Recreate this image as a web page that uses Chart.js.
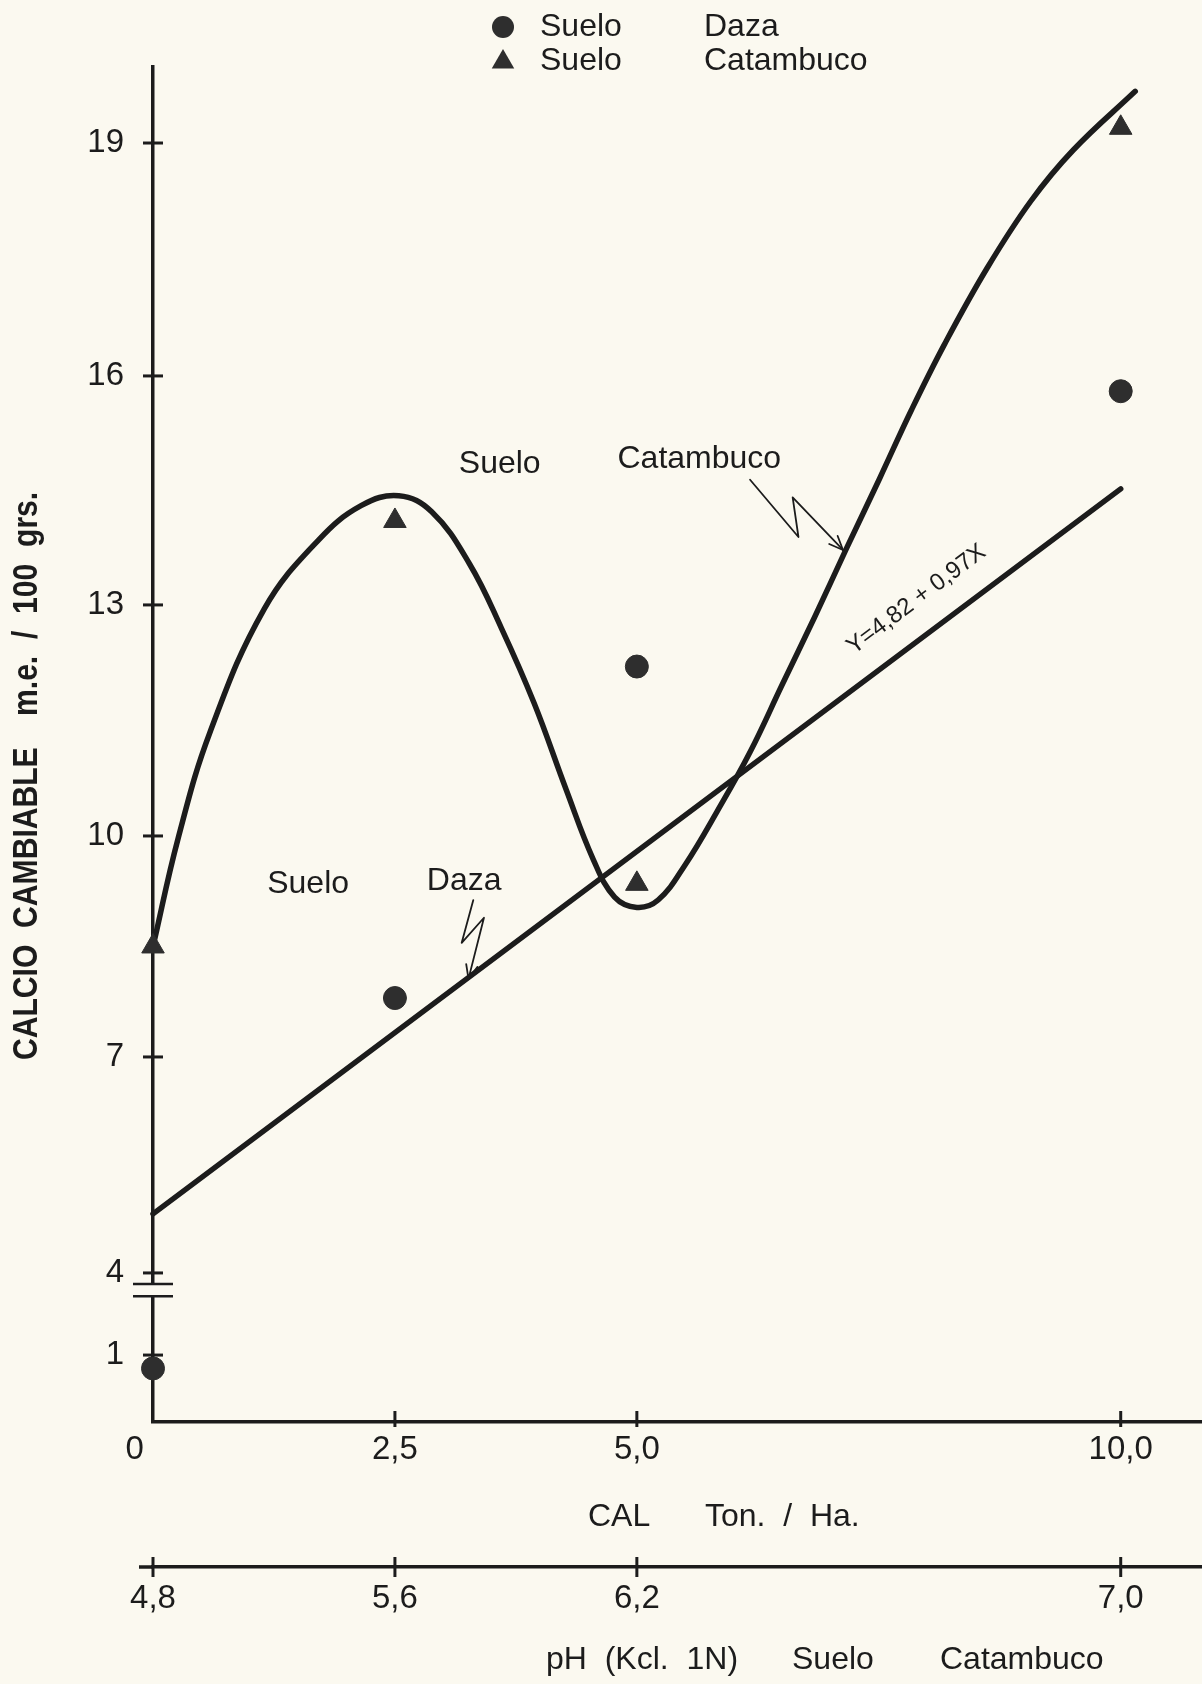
<!DOCTYPE html>
<html lang="es">
<head>
<meta charset="utf-8">
<title>Calcio cambiable - Suelo Daza / Suelo Catambuco</title>
<script src="https://cdn.jsdelivr.net/npm/chart.js@4.4.1/dist/chart.umd.min.js"></script>
<style>
  html, body { margin: 0; padding: 0; background: #fbf9f0; overflow: hidden; }
  #wrap { width: 1202px; height: 1684px; position: relative; }
</style>
</head>
<body>
<div id="wrap"><canvas id="chart"></canvas></div>
<script>
// ── Data ─────────────────────────────────────────────────────
const calTicks  = [0, 2.5, 5, 10];                 // CAL Ton./Ha.
const calLabels = ['0    ', '2,5', '5,0', '10,0'];  // origin label sits left of the corner
const phLabels  = ['4,8', '5,6', '6,2', '7,0'];    // pH (Kcl 1N) at the same doses
const caTicks   = [1, 4, 7, 10, 13, 16, 19];

// Suelo Daza (circles) + fitted line Y = 4,82 + 0,97X
const dazaX    = [0, 2.5, 5, 10];
const dazaY    = [0.8, 7.8, 12.2, 15.8];
const dazaFitX = [0, 10];
const dazaFitY = [4.82, 14.52];

// Suelo Catambuco (triangles) + hand-drawn curve
const catX = [0, 2.5, 5, 10];
const catY = [8.5, 14.1, 9.35, 19.2];
const catCurveX = [0, 0.26, 0.59, 1.15, 1.71, 2.15, 2.54, 2.88, 3.27, 3.6, 3.94, 4.27, 4.55, 4.77, 5.0,
                   5.22, 5.5, 5.83, 6.17, 6.5, 6.84, 7.17, 7.51, 7.84, 8.18, 8.62, 9.07, 9.51, 10.15];
const catCurveY = [8.5, 9.97, 11.35, 12.95, 13.85, 14.3, 14.43, 14.22, 13.54, 12.7, 11.72, 10.6, 9.68, 9.17, 9.03,
                   9.13, 9.61, 10.32, 11.09, 11.96, 12.85, 13.75, 14.66, 15.56, 16.41, 17.39, 18.25, 18.91, 19.68];

// ── Look ─────────────────────────────────────────────────────
const PAPER = '#fbf9f0';
const INK   = '#1c1c1c';
const MARK  = '#2e2e2e';
const FONT  = "'Liberation Sans', Arial, sans-serif";

Chart.defaults.font.family = FONT;
Chart.defaults.color = INK;

// ── Hand-ruled value axis: 1..4 squeezed, ticks as drawn ─────
const Y_SEGMENTS = [[0, 0], [1, 0.0494], [4, 0.110], [7, 0.2694], [10, 0.4325],
                    [13, 0.603], [16, 0.772], [19, 0.9439], [20, 1]];
const Y_BREAK = [3.15, 3.6];

function toDecimal(v) {
  for (let i = 1; i < Y_SEGMENTS.length; i++) {
    const [v0, d0] = Y_SEGMENTS[i - 1], [v1, d1] = Y_SEGMENTS[i];
    if (v <= v1 || i === Y_SEGMENTS.length - 1) return d0 + (v - v0) / (v1 - v0) * (d1 - d0);
  }
}
function fromDecimal(d) {
  for (let i = 1; i < Y_SEGMENTS.length; i++) {
    const [v0, d0] = Y_SEGMENTS[i - 1], [v1, d1] = Y_SEGMENTS[i];
    if (d <= d1 || i === Y_SEGMENTS.length - 1) return v0 + (d - d0) / (d1 - d0) * (v1 - v0);
  }
}

class BrokenScale extends Chart.LinearScale {
  static id = 'broken';
  static defaults = {};
  getPixelForValue(v) {
    if (v === null || v === undefined || isNaN(v)) return NaN;
    return this.getPixelForDecimal(toDecimal(v));
  }
  getValueForPixel(p) {
    return fromDecimal(this.getDecimalForPixel(p));
  }
}
Chart.register(BrokenScale);

// ── Annotations (data units) ─────────────────────────────────
const notes = [
  { text: 'Suelo',     x: 3.16, y: 14.85 },
  { text: 'Catambuco', x: 4.80, y: 14.91 },
  { text: 'Suelo',     x: 1.18, y: 9.35 },
  { text: 'Daza',      x: 2.83, y: 9.39 },
];
const catArrow  = [[6.17, 14.64], [6.67, 13.89], [6.61, 14.41], [7.13, 13.72]];
const dazaArrow = [[3.31, 9.13], [3.19, 8.55], [3.42, 8.89], [3.26, 8.06]];

const pts = (xs, ys) => xs.map((x, i) => ({ x, y: ys[i] }));

function seg(ctx, x1, y1, x2, y2) {
  ctx.beginPath();
  ctx.moveTo(x1, y1);
  ctx.lineTo(x2, y2);
  ctx.stroke();
}

function squiggle(ctx, x, y, list) {
  const p = list.map(([a, b]) => [x.getPixelForValue(a), y.getPixelForValue(b)]);
  ctx.beginPath();
  p.forEach(([px, py], i) => i ? ctx.lineTo(px, py) : ctx.moveTo(px, py));
  ctx.stroke();
  const [x1, y1] = p[p.length - 2], [x2, y2] = p[p.length - 1];
  const a = Math.atan2(y2 - y1, x2 - x1);
  [-0.4, 0.4].forEach(s => seg(ctx, x2, y2, x2 - 15 * Math.cos(a + s), y2 - 15 * Math.sin(a + s)));
}

// rotated, slightly condensed axis name
function sideTitle(ctx, text, cx, from) {
  ctx.save();
  ctx.translate(cx, from);
  ctx.rotate(-Math.PI / 2);
  ctx.scale(0.86, 1);
  ctx.font = `bold 35px ${FONT}`;
  ctx.textAlign = 'left';
  ctx.textBaseline = 'middle';
  ctx.fillText(text, 0, 0);
  ctx.restore();
}

const sketchPlugin = {
  id: 'sketch',
  beforeDraw(chart) {
    const { ctx, width, height } = chart;
    ctx.save();
    ctx.fillStyle = PAPER;
    ctx.fillRect(0, 0, width, height);
    ctx.restore();
  },
  afterDraw(chart) {
    const { ctx, chartArea } = chart;
    const { x, ph, y } = chart.scales;
    const ax = chartArea.left;
    ctx.save();
    ctx.strokeStyle = INK;
    ctx.fillStyle = INK;

    // tick marks crossing the axes
    ctx.lineWidth = 3;
    caTicks.forEach(v => { const py = y.getPixelForValue(v); seg(ctx, ax - 10, py, ax + 10, py); });
    calTicks.forEach(v => {
      if (v > 0) { const px = x.getPixelForValue(v); seg(ctx, px, x.top - 11, px, x.top + 5); }
    });
    calTicks.forEach(v => { const px = ph.getPixelForValue(v); seg(ctx, px, ph.top - 10, px, ph.top + 10); });
    ctx.lineWidth = 3.5;
    seg(ctx, ax - 14, ph.top, ax, ph.top);

    // break on the value axis
    const b1 = y.getPixelForValue(Y_BREAK[0]), b2 = y.getPixelForValue(Y_BREAK[1]);
    ctx.fillStyle = PAPER;
    ctx.fillRect(ax - 4, b2, 8, b1 - b2);
    ctx.fillStyle = INK;
    ctx.lineWidth = 2.5;
    seg(ctx, ax - 20, b1, ax + 20, b1);
    seg(ctx, ax - 20, b2, ax + 20, b2);

    // value axis name
    sideTitle(ctx, 'CALCIO  CAMBIABLE', 27, 1060);
    sideTitle(ctx, 'm.e.  /  100  grs.', 27, 716);

    // legend
    ctx.font = `32px ${FONT}`;
    ctx.textBaseline = 'middle';
    ctx.textAlign = 'left';
    ctx.fillStyle = MARK;
    Chart.helpers.drawPoint(ctx, { pointStyle: 'circle', radius: 11, borderWidth: 0 }, 503, 27);
    Chart.helpers.drawPoint(ctx, { pointStyle: 'triangle', radius: 13, borderWidth: 0 }, 503, 62);
    ctx.fillStyle = INK;
    ctx.fillText('Suelo', 540, 27);
    ctx.fillText('Daza', 704, 27);
    ctx.fillText('Suelo', 540, 61);
    ctx.fillText('Catambuco', 704, 61);

    // curve names
    notes.forEach(n => ctx.fillText(n.text, x.getPixelForValue(n.x), y.getPixelForValue(n.y)));

    // pointer squiggles
    ctx.lineWidth = 1.8;
    ctx.lineJoin = 'round';
    ctx.lineCap = 'round';
    squiggle(ctx, x, y, catArrow);
    squiggle(ctx, x, y, dazaArrow);

    // equation written along the fitted line
    const x0 = x.getPixelForValue(dazaFitX[0]), y0 = y.getPixelForValue(dazaFitY[0]);
    const x1 = x.getPixelForValue(dazaFitX[1]), y1 = y.getPixelForValue(dazaFitY[1]);
    const ang = Math.atan2(y1 - y0, x1 - x0);
    const t = 0.81;
    ctx.save();
    ctx.translate(x0 + (x1 - x0) * t, y0 + (y1 - y0) * t);
    ctx.rotate(ang);
    ctx.font = `24px ${FONT}`;
    ctx.textAlign = 'center';
    ctx.fillText('Y=4,82 + 0,97X', 0, -34);
    ctx.restore();

    // axis names under the two scales
    ctx.font = `32px ${FONT}`;
    ctx.textAlign = 'left';
    ctx.fillText('CAL', 588, x.top + 95);
    ctx.fillText('Ton.  /  Ha.', 705, x.top + 95);
    ctx.fillText('pH  (Kcl.  1N)', 546, ph.top + 93);
    ctx.fillText('Suelo', 792, ph.top + 93);
    ctx.fillText('Catambuco', 940, ph.top + 93);
    ctx.restore();
  }
};

const tickFont = { size: 33 };
const flatX = (h) => (s) => { s.height = h; s.paddingLeft = 0; s.paddingRight = 0; };

new Chart(document.getElementById('chart'), {
  type: 'line',
  data: {
    datasets: [
      {
        label: 'Suelo Catambuco', data: pts(catX, catY), showLine: false,
        pointStyle: 'triangle', pointRadius: 13, pointBackgroundColor: MARK,
        pointBorderColor: MARK, pointBorderWidth: 1, clip: false,
      },
      {
        label: 'Suelo Daza', data: pts(dazaX, dazaY), showLine: false,
        pointStyle: 'circle', pointRadius: 11.5, pointBackgroundColor: MARK,
        pointBorderColor: MARK, pointBorderWidth: 1, clip: false,
      },
      {
        label: 'Catambuco', data: pts(catCurveX, catCurveY), borderColor: INK, borderWidth: 5.5,
        pointRadius: 0, tension: 0.4, borderCapStyle: 'round',
        borderJoinStyle: 'round', fill: false, clip: false,
      },
      {
        label: 'Y=4,82 + 0,97X', data: pts(dazaFitX, dazaFitY), borderColor: INK, borderWidth: 5.5,
        pointRadius: 0, tension: 0, borderCapStyle: 'round', fill: false, clip: false,
      },
    ],
  },
  options: {
    responsive: true,
    maintainAspectRatio: false,
    animation: false,
    events: [],
    layout: { autoPadding: false, padding: { top: 67, left: 0, right: 0, bottom: 0 } },
    plugins: { legend: { display: false }, tooltip: { enabled: false } },
    scales: {
      x: {
        type: 'linear', position: 'bottom', weight: 0, min: 0, max: 10.84,
        afterFit: flatX(145),
        afterBuildTicks: s => { s.ticks = calTicks.map(value => ({ value })); },
        grid: { display: false, drawTicks: false },
        border: { color: INK, width: 3.5 },
        ticks: { autoSkip: false, maxRotation: 0, padding: 8, font: tickFont, color: INK,
                 callback: (v, i) => calLabels[i] },
      },
      ph: {
        type: 'linear', position: 'bottom', weight: 1, min: 0, max: 10.84,
        afterFit: flatX(117),
        afterBuildTicks: s => { s.ticks = calTicks.map(value => ({ value })); },
        grid: { display: false, drawTicks: false },
        border: { color: INK, width: 3.5 },
        ticks: { autoSkip: false, maxRotation: 0, padding: 12, font: tickFont, color: INK,
                 callback: (v, i) => phLabels[i] },
      },
      y: {
        type: 'broken', position: 'left', min: 0, max: 20,
        afterFit: s => { s.width = 153; s.paddingTop = 0; s.paddingBottom = 0; },
        afterBuildTicks: s => { s.ticks = caTicks.map(value => ({ value })); },
        grid: { display: false, drawTicks: false },
        border: { color: INK, width: 3.5 },
        ticks: { autoSkip: false, padding: 29, font: tickFont, color: INK, callback: v => String(v) },
      },
    },
  },
  plugins: [sketchPlugin],
});
</script>
</body>
</html>
